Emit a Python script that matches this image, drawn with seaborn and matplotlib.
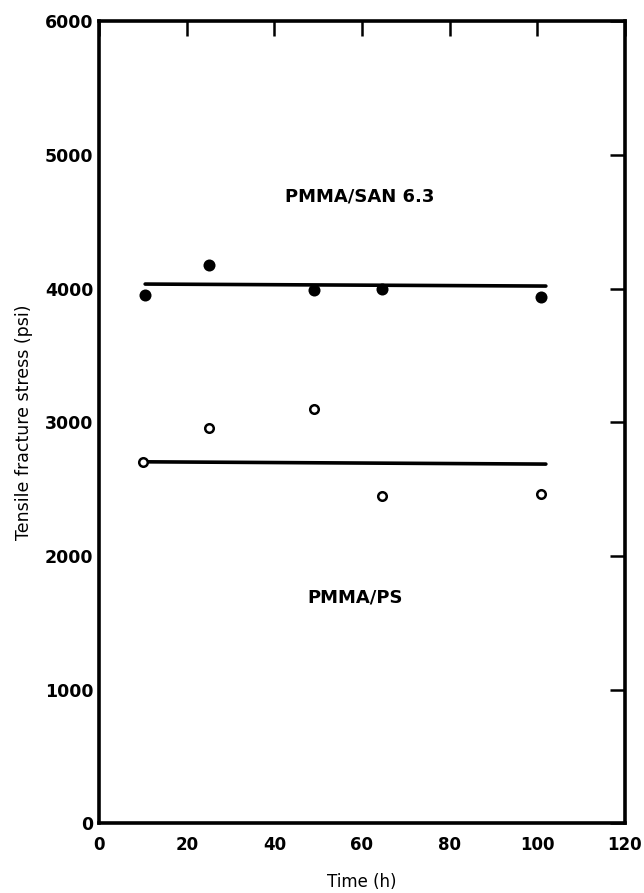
# Tensile fracture stress vs time for two blends
import matplotlib
matplotlib.use('Agg')
import matplotlib.pyplot as plt
import pandas as pd
import seaborn as sns

# Data
san_time = [10.5, 25, 49, 64.5, 101]
san_stress = [3955, 4175, 3990, 3995, 3940]
ps_time = [10, 25, 49, 64.5, 101]
ps_stress = [2705, 2955, 3100, 2452, 2464]

# Fitted mean lines (start / end)
san_fit_time = [10.5, 102]
san_fit_stress = [4035, 4020]
ps_fit_time = [10.5, 102]
ps_fit_stress = [2705, 2688]

x_ticks = [0, 20, 40, 60, 80, 100, 120]
y_ticks = [0, 1000, 2000, 3000, 4000, 5000, 6000]

sns.set_style('white')
plt.rcParams['font.family'] = ['DejaVu Sans']

df_san = pd.DataFrame({'time': san_time, 'stress': san_stress})
df_ps = pd.DataFrame({'time': ps_time, 'stress': ps_stress})
df_san_fit = pd.DataFrame({'time': san_fit_time, 'stress': san_fit_stress})
df_ps_fit = pd.DataFrame({'time': ps_fit_time, 'stress': ps_fit_stress})

fig = plt.figure(figsize=(6.44, 8.93), dpi=100)
ax = fig.add_axes([0.154, 0.078, 0.816, 0.898])

# Fit lines
sns.lineplot(x='time', y='stress', data=df_san_fit, ax=ax, color='black', linewidth=2.6)
sns.lineplot(x='time', y='stress', data=df_ps_fit, ax=ax, color='black', linewidth=2.6)

# Data points
sns.scatterplot(x='time', y='stress', data=df_san, ax=ax, color='black', s=75,
                marker='o', edgecolor='black', linewidth=0, zorder=3)
sns.scatterplot(x='time', y='stress', data=df_ps, ax=ax, s=38, marker='o',
                facecolor='white', edgecolor='black', linewidth=1.8, zorder=3)

# Labels inside the plot
ax.text(59.5, 4690, 'PMMA/SAN 6.3', ha='center', va='center', fontsize=13,
        fontweight='bold', color='black')
ax.text(58.5, 1690, 'PMMA/PS', ha='center', va='center', fontsize=13,
        fontweight='bold', color='black')

ax.set_xlim(0, 120)
ax.set_ylim(0, 6000)
ax.set_xticks(x_ticks)
ax.set_yticks(y_ticks)
ax.set_xticklabels([str(t) for t in x_ticks], fontsize=12, fontweight='bold')
ax.set_yticklabels([str(t) for t in y_ticks], fontsize=12.5, fontweight='bold')
ax.set_xlabel('Time (h)', fontsize=12, labelpad=14, color='black')
ax.set_ylabel('Tensile fracture stress (psi)', fontsize=12.5, labelpad=9, color='black')

ax.tick_params(direction='in', length=11, width=1.8, top=True, right=True,
               labeltop=False, labelright=False, pad=4, colors='black')
ax.tick_params(axis='x', pad=9)
for side in ax.spines.values():
    side.set_linewidth(2.6)
    side.set_color('black')

fig.savefig('out.png', dpi=100)
